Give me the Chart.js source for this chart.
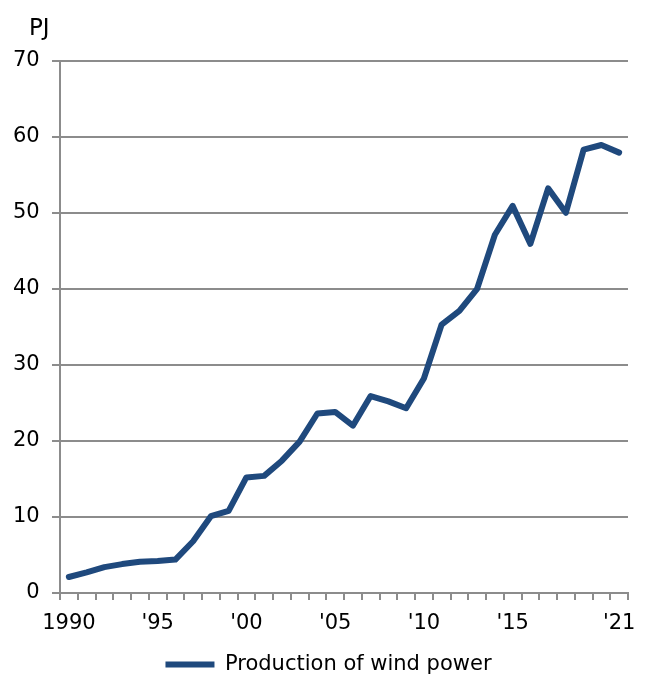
<!DOCTYPE html>
<html>
<head>
<meta charset="utf-8">
<script src="https://cdn.jsdelivr.net/npm/chart.js@4.4.1/dist/chart.umd.min.js"></script>
<style>
  html, body { margin: 0; padding: 0; background: #fff; }
  #wrap { width: 649px; height: 675px; }
</style>
</head>
<body>
<div id="wrap"><canvas id="windChart"></canvas></div>
<script>
// data
const years = [
    1990, 1991, 1992, 1993, 1994, 1995, 1996, 1997, 1998, 1999,
    2000, 2001, 2002, 2003, 2004, 2005, 2006, 2007, 2008, 2009,
    2010, 2011, 2012, 2013, 2014, 2015, 2016, 2017, 2018, 2019,
    2020, 2021
];

const windPower = [
    2.1, 2.7, 3.4, 3.8, 4.1, 4.2, 4.4, 6.8, 10.1, 10.8,
    15.2, 15.4, 17.4, 19.9, 23.6, 23.8, 22.0, 25.9, 25.2, 24.3,
    28.2, 35.3, 37.1, 40.0, 47.1, 50.9, 45.9, 53.2, 50.0, 58.3,
    58.9, 57.9
];

const tickLabels = [
    "1990", "", "", "", "", "'95", "", "", "", "",
    "'00", "", "", "", "", "'05", "", "", "", "",
    "'10", "", "", "", "", "'15", "", "", "", "",
    "", "'21"
];

const seriesLabel = "Production of wind power";
const unitLabel = "PJ";

const lineColor = "#1F497D";
const gridColor = "#8c8c8c";
const fontFamily = "'DejaVu Sans', Verdana, sans-serif";

Chart.defaults.font.family = fontFamily;
Chart.defaults.color = "#000";

new Chart(document.getElementById("windChart"), {
    type: "line",
    data: {
        labels: years,
        datasets: [{
            label: seriesLabel,
            data: windPower,
            borderColor: lineColor,
            backgroundColor: lineColor,
            borderWidth: 6,
            borderJoinStyle: "round",
            borderCapStyle: "round",
            tension: 0,
            pointRadius: 0,
            pointHoverRadius: 0
        }]
    },
    options: {
        responsive: true,
        maintainAspectRatio: false,
        animation: false,
        layout: { padding: { left: 29, right: 21, top: 0, bottom: -10 } },
        plugins: {
            title: {
                display: true,
                text: unitLabel,
                align: "start",
                font: { size: 23, weight: "normal" },
                padding: { top: 15, bottom: 18 }
            },
            legend: {
                position: "bottom",
                labels: {
                    usePointStyle: true,
                    pointStyle: "line",
                    pointStyleWidth: 49,
                    padding: 2,
                    font: { size: 21 }
                }
            },
            tooltip: { enabled: false }
        },
        scales: {
            x: {
                offset: true,
                grid: {
                    offset: true,
                    drawOnChartArea: false,
                    drawTicks: true,
                    tickLength: 7,
                    color: gridColor,
                    lineWidth: 2
                },
                border: { color: gridColor, width: 2 },
                ticks: {
                    autoSkip: false,
                    maxRotation: 0,
                    padding: 11,
                    font: { size: 21 },
                    callback: (v, i) => tickLabels[i]
                },
                afterFit: (scale) => { scale.height = 59; }
            },
            y: {
                min: 0,
                max: 70,
                ticks: {
                    stepSize: 10,
                    // mirrored so the labels are not clipped to the narrow axis box
                    mirror: true,
                    crossAlign: "far",
                    padding: -47,
                    font: { size: 21 }
                },
                grid: {
                    color: gridColor,
                    lineWidth: 2,
                    tickLength: 8
                },
                border: { color: gridColor, width: 2 },
                afterFit: (scale) => { scale.width = 31; }
            }
        }
    }
});
</script>
</body>
</html>
